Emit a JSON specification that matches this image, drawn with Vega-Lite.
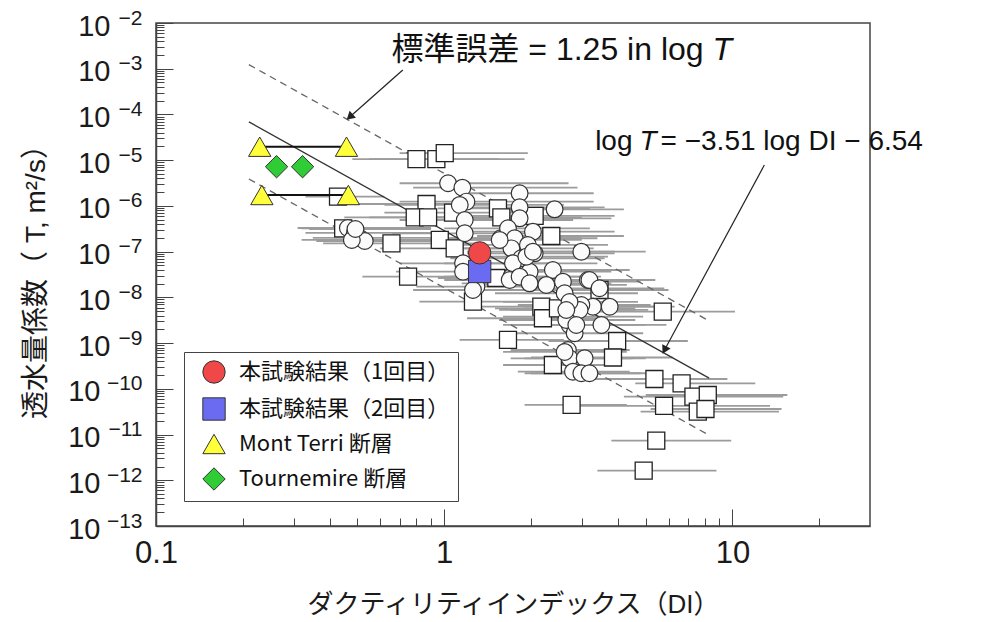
{
"$schema": "https://vega.github.io/schema/vega-lite/v6.json",
"width": 714, "height": 503,
"autosize": {"type": "none"},
"padding": {"left": 156, "top": 23, "right": 128, "bottom": 96},
"background": "white",
"config": {"view": {"stroke": "#444", "strokeWidth": 1.5}, "font": "Liberation Sans"},
"datasets": {
"pts": [
{"s":"q","x":0.801,"y":1.05e-5,"lo":0.48,"hi":1.55},
{"s":"q","x":0.939,"y":1.05e-5,"lo":0.55,"hi":1.9},
{"s":"q","x":1.004,"y":1.42e-5,"lo":0.7,"hi":1.95},
{"s":"q","x":0.868,"y":1.1e-6,"lo":0.47,"hi":1.6},
{"s":"q","x":0.79,"y":5.64e-7,"lo":0.45,"hi":1.3},
{"s":"q","x":0.879,"y":5.6e-7,"lo":0.55,"hi":1.5},
{"s":"q","x":0.656,"y":1.52e-7,"lo":0.38,"hi":1.35},
{"s":"q","x":0.965,"y":1.8e-7,"lo":0.55,"hi":1.9},
{"s":"q","x":1.087,"y":1.18e-7,"lo":0.6,"hi":2.2},
{"s":"q","x":0.749,"y":2.83e-8,"lo":0.52,"hi":1.1},
{"s":"q","x":1.258,"y":8.05e-9,"lo":0.82,"hi":2.0},
{"s":"q","x":1.536,"y":8.87e-7,"lo":0.95,"hi":3.2},
{"s":"q","x":1.578,"y":5.6e-7,"lo":0.9,"hi":3.0},
{"s":"q","x":2.059,"y":6.03e-7,"lo":1.2,"hi":3.9},
{"s":"q","x":2.352,"y":2.2e-7,"lo":1.3,"hi":4.2},
{"s":"q","x":1.073,"y":7.11e-7,"lo":0.62,"hi":2.1},
{"s":"q","x":2.172,"y":6.25e-9,"lo":1.3,"hi":4.0},
{"s":"q","x":2.2,"y":3.49e-9,"lo":1.2,"hi":3.7},
{"s":"q","x":2.48,"y":5.77e-9,"lo":1.5,"hi":4.6},
{"s":"q","x":3.457,"y":1.45e-8,"lo":2.0,"hi":6.0},
{"s":"q","x":5.73,"y":4.86e-9,"lo":3.3,"hi":10.2},
{"s":"q","x":3.98,"y":1.11e-9,"lo":2.3,"hi":7.0},
{"s":"q","x":3.85,"y":4.84e-10,"lo":2.0,"hi":6.2},
{"s":"q","x":1.664,"y":1.17e-9,"lo":1.13,"hi":2.6},
{"s":"q","x":2.382,"y":3.32e-10,"lo":1.6,"hi":3.9},
{"s":"q","x":2.766,"y":4.44e-11,"lo":1.9,"hi":4.3},
{"s":"q","x":5.36,"y":1.64e-10,"lo":3.3,"hi":9.6},
{"s":"q","x":6.66,"y":1.32e-10,"lo":4.6,"hi":12.0},
{"s":"q","x":7.32,"y":6.73e-11,"lo":4.2,"hi":15.0},
{"s":"q","x":8.21,"y":7.32e-11,"lo":5.0,"hi":15.5},
{"s":"q","x":5.79,"y":4.22e-11,"lo":2.7,"hi":13.5},
{"s":"q","x":7.58,"y":3.16e-11,"lo":4.8,"hi":14.5},
{"s":"q","x":8.06,"y":3.62e-11,"lo":5.2,"hi":14.8},
{"s":"q","x":5.44,"y":7.35e-12,"lo":3.8,"hi":9.9},
{"s":"q","x":4.92,"y":1.62e-12,"lo":3.4,"hi":8.8},
{"s":"q","x":0.446,"y":3.24e-7,"lo":0.32,"hi":0.8},
{"s":"q","x":0.428,"y":1.59e-6,"lo":0.33,"hi":0.62},
{"s":"q","x":1.516,"y":2.65e-8,"lo":0.95,"hi":2.6},
{"s":"c","x":0.463,"y":3.29e-7,"lo":0.31,"hi":0.9},
{"s":"c","x":0.49,"y":2.56e-7,"lo":0.33,"hi":0.95},
{"s":"c","x":0.51,"y":1.99e-7,"lo":0.35,"hi":0.92},
{"s":"c","x":0.53,"y":1.71e-7,"lo":0.36,"hi":1.0},
{"s":"c","x":0.478,"y":1.8e-7,"lo":0.32,"hi":0.85},
{"s":"c","x":0.492,"y":3.13e-7,"lo":0.34,"hi":0.9},
{"s":"c","x":1.031,"y":3.13e-6,"lo":0.7,"hi":2.7},
{"s":"c","x":1.156,"y":2.5e-6,"lo":0.78,"hi":2.9},
{"s":"c","x":1.194,"y":1.24e-6,"lo":0.7,"hi":3.3},
{"s":"c","x":1.132,"y":1.05e-6,"lo":0.62,"hi":2.6},
{"s":"c","x":1.178,"y":4.92e-7,"lo":0.7,"hi":2.8},
{"s":"c","x":1.178,"y":2.52e-7,"lo":0.66,"hi":2.5},
{"s":"c","x":1.57,"y":1.96e-7,"lo":0.95,"hi":3.0},
{"s":"c","x":1.826,"y":1.89e-6,"lo":1.1,"hi":3.3},
{"s":"c","x":1.826,"y":9.33e-7,"lo":1.05,"hi":3.6},
{"s":"c","x":1.826,"y":5.36e-7,"lo":1.0,"hi":3.8},
{"s":"c","x":2.415,"y":8.43e-7,"lo":1.5,"hi":4.2},
{"s":"c","x":2.031,"y":2.73e-7,"lo":1.2,"hi":3.9},
{"s":"c","x":1.664,"y":3.24e-7,"lo":1.0,"hi":3.2},
{"s":"c","x":1.755,"y":1.96e-7,"lo":1.05,"hi":3.4},
{"s":"c","x":1.951,"y":1.4e-7,"lo":1.1,"hi":3.7},
{"s":"c","x":1.71,"y":1.18e-7,"lo":0.95,"hi":3.3},
{"s":"c","x":2.059,"y":9.2e-8,"lo":1.2,"hi":3.9},
{"s":"c","x":1.851,"y":7.16e-8,"lo":1.05,"hi":3.6},
{"s":"c","x":2.99,"y":9.98e-8,"lo":1.9,"hi":5.0},
{"s":"c","x":2.382,"y":3.97e-8,"lo":1.4,"hi":4.4},
{"s":"c","x":2.581,"y":2.2e-8,"lo":1.5,"hi":4.8},
{"s":"c","x":3.15,"y":2.4e-8,"lo":1.9,"hi":5.2},
{"s":"c","x":1.978,"y":3.65e-8,"lo":1.1,"hi":3.8},
{"s":"c","x":1.71,"y":2.83e-8,"lo":1.0,"hi":3.3},
{"s":"c","x":1.162,"y":5.56e-8,"lo":0.7,"hi":2.3},
{"s":"c","x":1.162,"y":3.65e-8,"lo":0.68,"hi":2.2},
{"s":"c","x":1.557,"y":1.8e-7,"lo":0.9,"hi":3.0},
{"s":"c","x":1.731,"y":5.56e-8,"lo":1.0,"hi":3.4},
{"s":"c","x":1.927,"y":7.76e-8,"lo":1.1,"hi":3.7},
{"s":"c","x":2.031,"y":9.98e-8,"lo":1.2,"hi":3.9},
{"s":"c","x":1.687,"y":2.4e-8,"lo":1.0,"hi":3.2},
{"s":"c","x":1.826,"y":2.83e-8,"lo":1.05,"hi":3.5},
{"s":"c","x":1.978,"y":2.03e-8,"lo":1.15,"hi":3.8},
{"s":"c","x":2.261,"y":1.87e-8,"lo":1.3,"hi":4.3},
{"s":"c","x":2.616,"y":1.23e-8,"lo":1.5,"hi":4.7},
{"s":"c","x":3.19,"y":2.4e-8,"lo":1.9,"hi":5.4},
{"s":"c","x":3.457,"y":1.58e-8,"lo":2.0,"hi":5.8},
{"s":"c","x":3.28,"y":6.25e-9,"lo":1.9,"hi":5.5},
{"s":"c","x":3.75,"y":6.25e-9,"lo":2.2,"hi":6.3},
{"s":"c","x":3.51,"y":2.49e-9,"lo":2.1,"hi":5.9},
{"s":"c","x":2.796,"y":3.79e-9,"lo":1.6,"hi":4.9},
{"s":"c","x":2.72,"y":2.49e-9,"lo":1.6,"hi":4.7},
{"s":"c","x":2.834,"y":1.64e-9,"lo":1.7,"hi":4.9},
{"s":"c","x":2.99,"y":6.81e-9,"lo":1.8,"hi":5.2},
{"s":"c","x":2.949,"y":5.3e-9,"lo":1.7,"hi":5.1},
{"s":"c","x":2.651,"y":3.2e-9,"lo":1.55,"hi":4.6},
{"s":"c","x":2.872,"y":2.49e-9,"lo":1.7,"hi":5.0},
{"s":"c","x":1.293,"y":1.71e-8,"lo":0.8,"hi":2.4},
{"s":"c","x":1.258,"y":1.45e-8,"lo":0.78,"hi":2.3},
{"s":"c","x":2.685,"y":7.06e-10,"lo":1.7,"hi":4.4},
{"s":"c","x":2.72,"y":4.65e-10,"lo":1.7,"hi":4.5},
{"s":"c","x":3.07,"y":4.65e-10,"lo":1.9,"hi":5.0},
{"s":"c","x":2.796,"y":2.37e-10,"lo":1.8,"hi":4.4},
{"s":"c","x":2.99,"y":2.19e-10,"lo":1.9,"hi":4.8},
{"s":"c","x":3.19,"y":2.19e-10,"lo":2.0,"hi":5.0},
{"s":"c","x":2.616,"y":6.4e-10,"lo":1.6,"hi":4.3},
{"s":"c","x":2.72,"y":7.93e-9,"lo":1.6,"hi":4.7},
{"s":"c","x":2.651,"y":5.3e-9,"lo":1.55,"hi":4.6}
],
"special": [
{"series":"Mont Terri 断層","x":0.229,"y":1.97e-5},
{"series":"Mont Terri 断層","x":0.458,"y":1.97e-5},
{"series":"Mont Terri 断層","x":0.233,"y":1.73e-6},
{"series":"Mont Terri 断層","x":0.465,"y":1.73e-6},
{"series":"Tournemire 断層","x":0.262,"y":7.2e-6},
{"series":"Tournemire 断層","x":0.3225,"y":7.2e-6},
{"series":"本試験結果（2回目）","x":1.327,"y":3.68e-8},
{"series":"本試験結果（1回目）","x":1.327,"y":9.4e-8}
],
"pairs": [
{"x":0.229,"x2":0.458,"y":1.97e-5},
{"x":0.233,"x2":0.465,"y":1.73e-6}
],
"fit": [
{"kind":"fit","x":0.21,"y":6.9e-5},
{"kind":"fit","x":8.3,"y":1.71e-10},
{"kind":"upper","x":0.21,"y":1.23e-3},
{"kind":"upper","x":8.3,"y":3.05e-9},
{"kind":"lower","x":0.21,"y":3.88e-6},
{"kind":"lower","x":8.3,"y":9.64e-12}
],
"arrows": [
{"a":1,"x":0.718,"y":9.37e-4,"x2":0.47,"y2":8.8e-5},
{"a":2,"x":12.9,"y":7.85e-6,"x2":5.81,"y2":7.06e-10}
],
"heads": [
{"a":1,"x":0.47,"y":8.8e-5},
{"a":2,"x":5.81,"y":7.06e-10}
],
"texts": [
{"g":"r","x":7.94,"y":1.55e-3,"t":"標準誤差 = 1.25 in log"},
{"g":"i","x":8.52,"y":1.55e-3,"t":"T"},
{"g":"r2","x":4.5,"y":1.67e-5,"t":"log"},
{"g":"i2","x":4.76,"y":1.67e-5,"t":"T"},
{"g":"l","x":5.63,"y":1.67e-5,"t":"= −3.51 log DI − 6.54"}
]
},
"encoding": {
"x": {"field": "x", "type": "quantitative", "scale": {"type": "log", "domain": [0.1, 30], "nice": false}, "axis": null},
"y": {"field": "y", "type": "quantitative", "scale": {"type": "log", "domain": [1e-13, 1e-2], "nice": false}, "axis": null}
},
"resolve": {"axis": {"x": "independent", "y": "independent"}},
"layer": [
{
"data": {"name": "pts"},
"mark": {"type": "rule", "stroke": "#9c9c9c", "strokeWidth": 1.8},
"encoding": {
"x": {"field": "lo", "type": "quantitative", "scale": {"type": "log", "domain": [0.1, 30], "nice": false},
"axis": {"orient": "bottom", "values": [0.1,0.2,0.3,0.4,0.5,0.6,0.7,0.8,0.9,1,2,3,4,5,6,7,8,9,10,20],
"tickSize": {"condition": {"test": "abs(log(datum.value)/LN10 - round(log(datum.value)/LN10)) < 0.01", "value": -17}, "value": -8},
"tickColor": "#444", "domainColor": "#444", "domainWidth": 1.5, "grid": false,
"labelExpr": "abs(log(datum.value)/LN10 - round(log(datum.value)/LN10)) < 0.01 ? (datum.value < 0.5 ? '0.1' : (datum.value < 5 ? '1' : '10')) : ''",
"labelFont": "Liberation Sans", "labelFontSize": 31, "labelColor": "#1a1a1a", "labelPadding": 29,
"labelFlush": false, "labelOverlap": false, "labelBound": false,
"title": "ダクティリティインデックス（DI）", "titleFont": "Liberation Sans, Noto Sans CJK JP", "titleFontSize": 26, "titleFontWeight": "normal", "titleColor": "#1a1a1a", "titlePadding": 14}},
"x2": {"field": "hi"},
"y": {"field": "y", "type": "quantitative", "scale": {"type": "log", "domain": [1e-13, 1e-2], "nice": false},
"axis": {"orient": "left", "values": [1e-13,2e-13,3e-13,4e-13,5e-13,6e-13,7e-13,8e-13,9e-13,1e-12,2e-12,3e-12,4e-12,5e-12,6e-12,7e-12,8e-12,9e-12,1e-11,2e-11,3e-11,4e-11,5e-11,6e-11,7e-11,8e-11,9e-11,1e-10,2e-10,3e-10,4e-10,5e-10,6e-10,7e-10,8e-10,9e-10,1e-9,2e-9,3e-9,4e-9,5e-9,6e-9,7e-9,8e-9,9e-9,1e-8,2e-8,3e-8,4e-8,5e-8,6e-8,7e-8,8e-8,9e-8,1e-7,2e-7,3e-7,4e-7,5e-7,6e-7,7e-7,8e-7,9e-7,1e-6,2e-6,3e-6,4e-6,5e-6,6e-6,7e-6,8e-6,9e-6,1e-5,2e-5,3e-5,4e-5,5e-5,6e-5,7e-5,8e-5,9e-5,1e-4,2e-4,3e-4,4e-4,5e-4,6e-4,7e-4,8e-4,9e-4,1e-3,2e-3,3e-3,4e-3,5e-3,6e-3,7e-3,8e-3,9e-3,1e-2],
"tickSize": {"condition": {"test": "abs(log(datum.value)/LN10 - round(log(datum.value)/LN10)) < 0.01", "value": -17}, "value": -8},
"tickColor": "#444", "domainColor": "#444", "domainWidth": 1.5, "grid": false,
"labelExpr": "abs(log(datum.value)/LN10 - round(log(datum.value)/LN10)) < 0.01 ? '10' : ''",
"labelFont": "Liberation Sans", "labelFontSize": 29, "labelColor": "#1a1a1a",
"labelPadding": {"condition": {"test": "datum.value < 5e-10", "value": 73}, "value": 63},
"labelOffset": 3,
"labelFlush": false, "labelOverlap": false, "labelBound": false,
"title": "透水量係数（ T, m²/s）", "titleFont": "Liberation Sans, Noto Sans CJK JP", "titleFontSize": 28, "titleFontWeight": "normal", "titleColor": "#1a1a1a", "titlePadding": 17}}
}
},
{
"data": {"name": "fit"},
"transform": [{"filter": "datum.kind == 'fit'"}],
"mark": {"type": "line", "stroke": "#333", "strokeWidth": 1.3},
"encoding": {}
},
{
"data": {"name": "fit"},
"transform": [{"filter": "datum.kind != 'fit'"}],
"mark": {"type": "line", "stroke": "#666", "strokeWidth": 1.3, "strokeDash": [7, 5]},
"encoding": {"detail": {"field": "kind", "type": "nominal"}}
},
{
"data": {"name": "pts"},
"transform": [{"filter": "datum.s == 'q'"}],
"mark": {"type": "point", "shape": "square", "size": 289, "filled": true, "fill": "white", "stroke": "#222", "strokeWidth": 1.3, "opacity": 1},
"encoding": {
"y": {"field": "y", "type": "quantitative", "scale": {"type": "log", "domain": [1e-13, 1e-2], "nice": false},
"axis": {"orient": "left", "values": [1e-13,1e-12,1e-11,1e-10,1e-9,1e-8,1e-7,1e-6,1e-5,1e-4,1e-3,1e-2],
"ticks": false, "domain": false, "grid": false, "title": null,
"labelExpr": "'−' + round(-log(datum.value)/LN10)",
"labelFont": "Liberation Sans", "labelFontSize": 21, "labelColor": "#1a1a1a", "labelPadding": 14, "labelOffset": -5,
"labelFlush": false, "labelOverlap": false, "labelBound": false}}
}
},
{
"data": {"name": "pts"},
"transform": [{"filter": "datum.s == 'c'"}],
"mark": {"type": "point", "shape": "circle", "size": 280, "filled": true, "fill": "#fbfbfb", "stroke": "#333", "strokeWidth": 1.2, "opacity": 1},
"encoding": {}
},
{
"data": {"name": "pairs"},
"mark": {"type": "rule", "stroke": "#111", "strokeWidth": 2},
"encoding": {"x2": {"field": "x2"}}
},
{
"data": {"name": "special"},
"mark": {"type": "point", "filled": true, "size": 500, "stroke": "#333", "strokeWidth": 1, "opacity": 1},
"encoding": {
"color": {"field": "series", "type": "nominal",
"scale": {"domain": ["本試験結果（1回目）", "本試験結果（2回目）", "Mont Terri 断層", "Tournemire 断層"], "range": ["#f04848", "#6b6bf2", "#ffff3a", "#2fcc36"]},
"legend": {"title": null, "orient": "none", "legendX": 28, "legendY": 329, "strokeColor": "#444", "fillColor": "white", "padding": 8, "symbolSize": 500, "symbolStrokeColor": "#333", "symbolStrokeWidth": 1, "labelFont": "Noto Sans CJK JP", "labelFontSize": 22, "labelColor": "#111", "labelOffset": 13, "rowPadding": 9, "symbolOffset": 10, "labelLimit": 300}},
"shape": {"field": "series", "type": "nominal",
"scale": {"domain": ["本試験結果（1回目）", "本試験結果（2回目）", "Mont Terri 断層", "Tournemire 断層"], "range": ["circle", "square", "triangle-up", "diamond"]},
"legend": {"title": null, "orient": "none", "legendX": 28, "legendY": 329, "strokeColor": "#444", "fillColor": "white", "padding": 8, "symbolSize": 500, "symbolStrokeColor": "#333", "symbolStrokeWidth": 1, "labelFont": "Noto Sans CJK JP", "labelFontSize": 22, "labelColor": "#111", "labelOffset": 13, "rowPadding": 9, "symbolOffset": 10, "labelLimit": 300}}
}
},
{
"data": {"name": "arrows"},
"mark": {"type": "rule", "stroke": "#222", "strokeWidth": 1.2},
"encoding": {"x2": {"field": "x2"}, "y2": {"field": "y2"}}
},
{
"data": {"name": "heads"},
"transform": [{"filter": "datum.a == 1"}],
"mark": {"type": "point", "shape": "triangle-up", "size": 90, "filled": true, "fill": "#222", "strokeWidth": 0, "opacity": 1, "angle": 228},
"encoding": {}
},
{
"data": {"name": "heads"},
"transform": [{"filter": "datum.a == 2"}],
"mark": {"type": "point", "shape": "triangle-up", "size": 90, "filled": true, "fill": "#222", "strokeWidth": 0, "opacity": 1, "angle": 208},
"encoding": {}
},
{
"data": {"name": "texts"},
"transform": [{"filter": "datum.g == 'r'"}],
"mark": {"type": "text", "align": "right", "baseline": "alphabetic", "font": "Liberation Sans, Noto Sans CJK JP", "fontSize": 32, "fill": "#111"},
"encoding": {"text": {"field": "t"}}
},
{
"data": {"name": "texts"},
"transform": [{"filter": "datum.g == 'i'"}],
"mark": {"type": "text", "align": "left", "baseline": "alphabetic", "font": "Liberation Sans", "fontStyle": "italic", "fontSize": 32, "fill": "#111"},
"encoding": {"text": {"field": "t"}}
},
{
"data": {"name": "texts"},
"transform": [{"filter": "datum.g == 'r2'"}],
"mark": {"type": "text", "align": "right", "baseline": "alphabetic", "font": "Liberation Sans", "fontSize": 28, "fill": "#111"},
"encoding": {"text": {"field": "t"}}
},
{
"data": {"name": "texts"},
"transform": [{"filter": "datum.g == 'i2'"}],
"mark": {"type": "text", "align": "left", "baseline": "alphabetic", "font": "Liberation Sans", "fontStyle": "italic", "fontSize": 28, "fill": "#111"},
"encoding": {"text": {"field": "t"}}
},
{
"data": {"name": "texts"},
"transform": [{"filter": "datum.g == 'l'"}],
"mark": {"type": "text", "align": "left", "baseline": "alphabetic", "font": "Liberation Sans", "fontSize": 28, "fill": "#111"},
"encoding": {"text": {"field": "t"}}
}
]
}
